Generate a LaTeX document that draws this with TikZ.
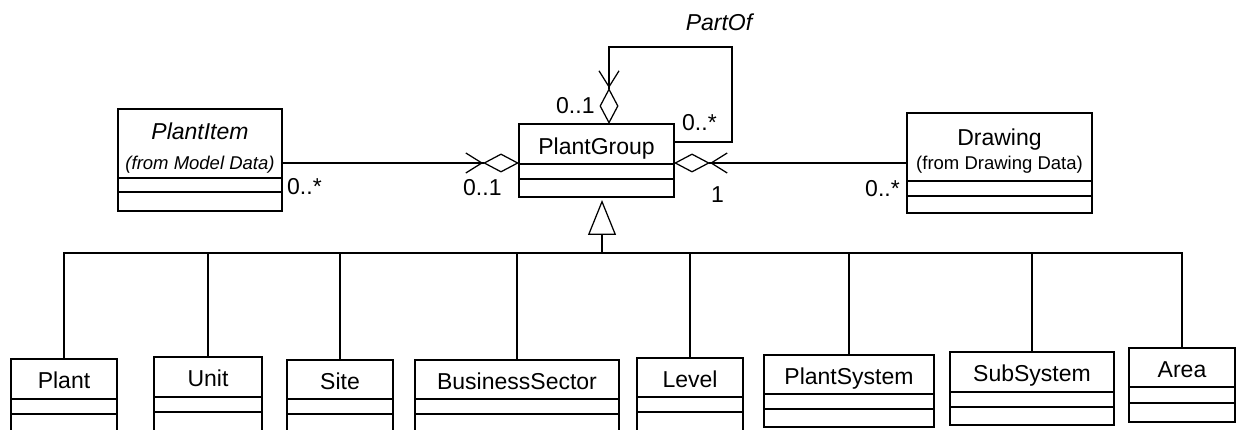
\documentclass[tikz,border=0pt]{standalone}
\usepackage{fontspec}
\setmainfont{Liberation Sans}
\usetikzlibrary{arrows.meta}
\tikzset{
  conn/.style={line width=1.25pt, line join=miter},
  cls/.style={draw, line width=1.25pt, inner sep=0pt, outer sep=0pt, anchor=north west},
  lbl/.style={font=\fontsize{23}{25}\selectfont, inner sep=0pt, anchor=base},
  sublbl/.style={font=\fontsize{18.5}{20}\selectfont, inner sep=0pt, anchor=base},
  mult/.style={font=\fontsize{23}{25}\selectfont, inner sep=0pt, anchor=base west},
  agg/.style={conn, -{Straight Barb[length=16pt,width=20pt,sep=0pt] Diamond[open,length=36pt,width=19pt]}},
  gen/.style={conn, -{Triangle[open,length=35pt,width=28pt]}, shorten >=3pt},
}
% name, x1, top, x2, bottom, sep1, sep2
\newcommand\umlbox[7]{%
  \node[cls, minimum width={(#4-#2)*1pt}, minimum height={(#5-#3)*1pt}] (#1) at (#2,#3) {};
  \draw[conn] (#2,#6) -- (#4,#6);
  \draw[conn] (#2,#7) -- (#4,#7);
}
\begin{document}
\begin{tikzpicture}[x=1pt,y=-1pt]
\clip (0,0) rectangle (1236,430);
\fill[white] (0,0) rectangle (1236,430);

% upper classes
\umlbox{PlantItem}{118}{109}{282}{211}{178}{192}
\node[lbl, font=\fontsize{23}{25}\selectfont\itshape] (PlantItemT) at (200,140) {PlantItem};
\node[sublbl, font=\fontsize{18.5}{20}\selectfont\itshape] (PlantItemS) at (200,170) {(from Model Data)};

\umlbox{PlantGroup}{519}{124}{674}{197}{164}{179}
\node[lbl] (PlantGroupT) at (596.5,155) {PlantGroup};

\umlbox{Drawing}{907}{113}{1092}{213}{181}{196}
\node[lbl] (DrawingT) at (999.5,146) {Drawing};
\node[sublbl] (DrawingS) at (999.5,170) {(from Drawing Data)};

% lower classes
\umlbox{Plant}{11}{359}{117}{445}{399}{414}
\node[lbl] (PlantT) at (64,388) {Plant};
\umlbox{Unit}{154}{357}{262}{445}{397}{412}
\node[lbl] (UnitT) at (208,386) {Unit};
\umlbox{Site}{287}{360}{393}{445}{399}{414}
\node[lbl] (SiteT) at (340,389) {Site};
\umlbox{BusinessSector}{415}{360}{619}{445}{399}{414}
\node[lbl] (BusinessSectorT) at (517,389) {BusinessSector};
\umlbox{Level}{637}{358}{743}{445}{397}{412}
\node[lbl] (LevelT) at (690,387) {Level};
\umlbox{PlantSystem}{764}{355}{934}{427}{394}{409}
\node[lbl] (PlantSystemT) at (849,384) {PlantSystem};
\umlbox{SubSystem}{950}{352}{1114}{425}{392}{407}
\node[lbl] (SubSystemT) at (1032,381) {SubSystem};
\umlbox{Area}{1129}{348}{1235}{422}{387}{403}
\node[lbl] (AreaT) at (1182,377) {Area};

% associations
\draw[agg] ([yshift=-3pt]PlantItem.east) -- ([yshift=-3pt]PlantItem.east -| PlantGroup.west);
\draw[agg] (Drawing.west) -- (Drawing.west -| PlantGroup.east);
\coordinate (loopR) at (732,47);
\coordinate (loopIn) at (609,124);
\draw[agg] (PlantGroup.east |- 0,142) -| (loopR) -| (loopIn);

% multiplicities and role
\node[lbl, font=\fontsize{23}{25}\selectfont\itshape] (partof) at (719,31) {PartOf};
\node[mult] (m1) at (556,114) {0..1};
\node[mult] (m2) at (682,131) {0..*};
\node[mult] (m3) at (287,195) {0..*};
\node[mult] (m4) at (463,196) {0..1};
\node[mult] (m5) at (711,203) {1};
\node[mult] (m6) at (865,197) {0..*};

% generalization
\coordinate (junc) at (602,253);
\foreach \c in {Plant,Unit,Site,BusinessSector,Level,PlantSystem,SubSystem,Area}
  \draw[conn] (\c.north) |- (junc);
\draw[gen] (junc) -- (junc |- PlantGroup.south);
\end{tikzpicture}
\end{document}
